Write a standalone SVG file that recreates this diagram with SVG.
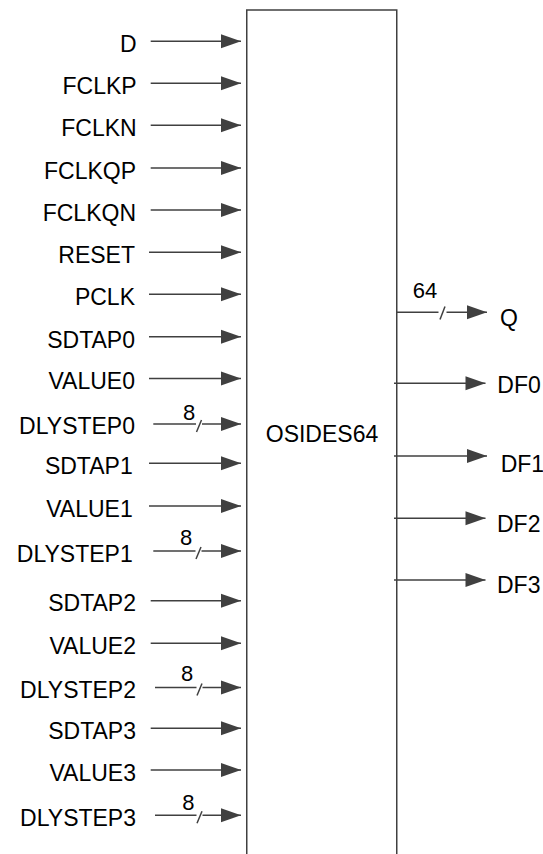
<svg xmlns="http://www.w3.org/2000/svg" width="543" height="854" viewBox="0 0 543 854">
<style>
.lbl{font-family:"Liberation Sans",Arial,sans-serif;font-size:23px;fill:#000}
.in{text-anchor:end}
.w{font-family:"Liberation Sans",Arial,sans-serif;font-size:22px;fill:#000;text-anchor:middle}
.ln{stroke:#404040;stroke-width:1.5;fill:none}
.ar{stroke:#404040;stroke-width:1.5;fill:none;marker-end:url(#ah)}
.box{fill:#fff;stroke:#404040;stroke-width:1.5}
</style>
<defs>
<marker id="ah" markerUnits="userSpaceOnUse" markerWidth="20" markerHeight="14" refX="20" refY="7" orient="auto" overflow="visible">
<path d="M0,0 L20,7 L0,14 Z" fill="#404040"/>
</marker>
</defs>
<g id="osides64">
<rect class="box" x="246.75" y="10" width="150" height="860"/>
<text class="lbl" x="322" y="442" text-anchor="middle">OSIDES64</text>
</g>
<g id="labels">
<text class="lbl in" x="136.7" y="51.8">D</text>
<text class="lbl in" x="136.7" y="93.8">FCLKP</text>
<text class="lbl in" x="136.7" y="135.8">FCLKN</text>
<text class="lbl in" x="136" y="178.8">FCLKQP</text>
<text class="lbl in" x="136" y="220.8">FCLKQN</text>
<text class="lbl in" x="135" y="263">RESET</text>
<text class="lbl in" x="135" y="305">PCLK</text>
<text class="lbl in" x="135" y="347.5">SDTAP0</text>
<text class="lbl in" x="135" y="389">VALUE0</text>
<text class="lbl in" x="135" y="434">DLYSTEP0</text>
<text class="lbl in" x="132.7" y="474">SDTAP1</text>
<text class="lbl in" x="132.7" y="516.7">VALUE1</text>
<text class="lbl in" x="132.7" y="561.5">DLYSTEP1</text>
<text class="lbl in" x="136" y="611.4">SDTAP2</text>
<text class="lbl in" x="136" y="654">VALUE2</text>
<text class="lbl in" x="136" y="698">DLYSTEP2</text>
<text class="lbl in" x="136" y="739">SDTAP3</text>
<text class="lbl in" x="136" y="780.7">VALUE3</text>
<text class="lbl in" x="136" y="825.5">DLYSTEP3</text>
<text class="lbl" x="500" y="326">Q</text>
<text class="lbl" x="497.3" y="393.3">DF0</text>
<text class="lbl" x="500.7" y="471.7">DF1</text>
<text class="lbl" x="497" y="531.7">DF2</text>
<text class="lbl" x="497" y="593.3">DF3</text>
<text class="w" x="189" y="420">8</text>
<text class="w" x="186" y="545">8</text>
<text class="w" x="187" y="681">8</text>
<text class="w" x="188.3" y="810">8</text>
<text class="w" x="425" y="298">64</text>
</g>
<g id="connectors">
<line class="ar" x1="150.7" y1="41.3" x2="241" y2="41.3"/>
<line class="ar" x1="150.7" y1="83.3" x2="241" y2="83.3"/>
<line class="ar" x1="150.7" y1="125.3" x2="241" y2="125.3"/>
<line class="ar" x1="150.7" y1="168" x2="241" y2="168"/>
<line class="ar" x1="150.7" y1="210" x2="241" y2="210"/>
<line class="ar" x1="149" y1="252.3" x2="241" y2="252.3"/>
<line class="ar" x1="149" y1="294.3" x2="241" y2="294.3"/>
<line class="ar" x1="149" y1="336.7" x2="241" y2="336.7"/>
<line class="ar" x1="149" y1="378.5" x2="241" y2="378.5"/>
<line class="ln" x1="153.3" y1="424" x2="196" y2="424"/>
<line class="ln" x1="196.5" y1="432" x2="201.5" y2="420"/>
<line class="ar" x1="202" y1="424" x2="241" y2="424"/>
<line class="ar" x1="149" y1="463.3" x2="241" y2="463.3"/>
<line class="ar" x1="149" y1="506" x2="241" y2="506"/>
<line class="ln" x1="153.3" y1="551" x2="195.5" y2="551"/>
<line class="ln" x1="196" y1="559" x2="201" y2="547"/>
<line class="ar" x1="201.5" y1="551" x2="241" y2="551"/>
<line class="ar" x1="150.7" y1="600.7" x2="241" y2="600.7"/>
<line class="ar" x1="150.7" y1="643.3" x2="241" y2="643.3"/>
<line class="ln" x1="155" y1="687.5" x2="196.5" y2="687.5"/>
<line class="ln" x1="197" y1="695.5" x2="202" y2="683.5"/>
<line class="ar" x1="202.5" y1="687.5" x2="241" y2="687.5"/>
<line class="ar" x1="150.7" y1="728.3" x2="241" y2="728.3"/>
<line class="ar" x1="150.7" y1="770" x2="241" y2="770"/>
<line class="ln" x1="155" y1="815.3" x2="196.5" y2="815.3"/>
<line class="ln" x1="197" y1="823.3" x2="202" y2="811.3"/>
<line class="ar" x1="202.5" y1="815.3" x2="241" y2="815.3"/>
<line class="ln" x1="397" y1="312.3" x2="438.5" y2="312.3"/>
<line class="ln" x1="440" y1="319.5" x2="445" y2="306.5"/>
<line class="ar" x1="446.5" y1="312.3" x2="487" y2="312.3"/>
<line class="ar" x1="394" y1="383.3" x2="485.5" y2="383.3"/>
<line class="ar" x1="394" y1="456" x2="487" y2="456"/>
<line class="ar" x1="394" y1="518.3" x2="485.5" y2="518.3"/>
<line class="ar" x1="394" y1="580" x2="485.5" y2="580"/>
</g>
</svg>
